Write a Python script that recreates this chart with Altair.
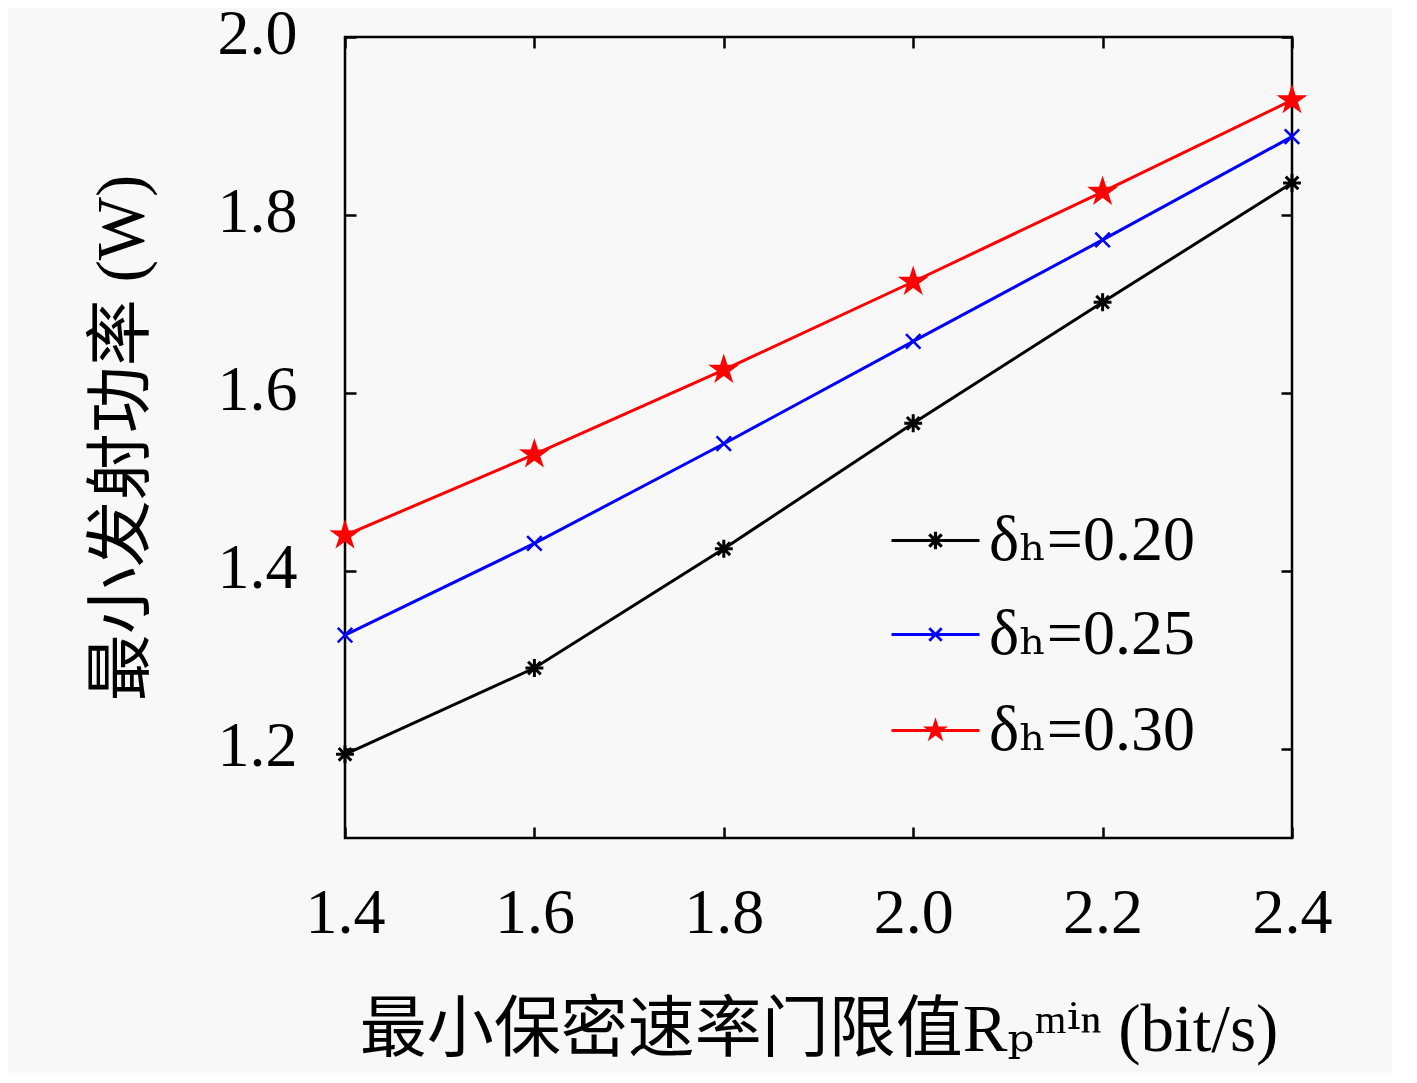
import math
import altair as alt
import pandas as pd

# ---------------- data ----------------
rate_min = [1.4, 1.6, 1.8, 2.0, 2.2, 2.4]
power_020 = [1.194, 1.291, 1.425, 1.566, 1.702, 1.836]
power_025 = [1.328, 1.431, 1.543, 1.658, 1.772, 1.888]
power_030 = [1.440, 1.531, 1.626, 1.725, 1.826, 1.929]
series_labels = ["δₕ=0.20", "δₕ=0.25", "δₕ=0.30"]
x_ticks = [1.4, 1.6, 1.8, 2.0, 2.2, 2.4]
y_ticks = [1.2, 1.4, 1.6, 1.8, 2.0]

rows = []
for lab, vals in zip(series_labels, [power_020, power_025, power_030]):
    for xv, yv in zip(rate_min, vals):
        rows.append({"rate": xv, "power": yv, "series": lab})
df = pd.DataFrame(rows)

# ---------------- styles ----------------
colors = ["#000000", "#0000ff", "#ff0000"]
W, H = 947, 801
SERIF = "Liberation Serif, DejaVu Serif, Noto Sans CJK SC"
legend_tops = [458, 552, 648]


def fmt(v):
    return f"{v:.4f}"


def asterisk(s):
    d = s * 0.7071
    return (f"M{fmt(-s)},0L{fmt(s)},0M0,{fmt(-s)}L0,{fmt(s)}"
            f"M{fmt(-d)},{fmt(-d)}L{fmt(d)},{fmt(d)}M{fmt(-d)},{fmt(d)}L{fmt(d)},{fmt(-d)}")


def xmark(s):
    return f"M{fmt(-s)},{fmt(-s)}L{fmt(s)},{fmt(s)}M{fmt(-s)},{fmt(s)}L{fmt(s)},{fmt(-s)}"


def star(s, ratio=0.38):
    pts = []
    for k in range(10):
        ang = math.radians(-90 + 36 * k)
        r = s if k % 2 == 0 else s * ratio
        pts.append(f"{fmt(r * math.cos(ang))},{fmt(r * math.sin(ang))}")
    return "M" + "L".join(pts) + "Z"


# filled (stroke-free) versions for legend symbols
def seg_rect(x1, y1, x2, y2, t):
    dx, dy = x2 - x1, y2 - y1
    L = math.hypot(dx, dy)
    nx, ny = -dy / L * t, dx / L * t
    pts = [(x1 - nx, y1 - ny), (x2 - nx, y2 - ny), (x2 + nx, y2 + ny), (x1 + nx, y1 + ny)]
    return "M" + "L".join(f"{fmt(a)},{fmt(b)}" for a, b in pts) + "Z"


def spokes(s, angles, t):
    out = ""
    for a in angles:
        c, sn = math.cos(math.radians(a)), math.sin(math.radians(a))
        out += seg_rect(-s * c, -s * sn, s * c, s * sn, t)
    return out


LT = 1.6 / 44  # legend line half thickness in unit space
legend_line = seg_rect(-1, 0, 1, 0, LT)
legend_paths = [legend_line + spokes(0.2, [0, 45, 90, 135], LT),
                legend_line + spokes(0.2, [45, 135], 1.4 / 44),
                legend_line + star(0.3)]

marker_paths = [asterisk(1), xmark(1), star(1)]
marker_sizes = [320, 210, 680]
marker_widths = [3, 2.5, 2]

xscale = alt.Scale(domain=[1.4, 2.4], nice=False, zero=False)
yscale = alt.Scale(domain=[1.1, 2.0], nice=False, zero=False)
col_scale = alt.Scale(domain=series_labels, range=colors)

base = alt.Chart(df)

tick_axis_common = dict(labels=False, ticks=True, tickSize=11, tickWidth=2.5,
                        tickColor="black", domain=False, grid=False, title=None)

# line layer with the labelled axes
lines = base.mark_line(strokeWidth=3).encode(
    x=alt.X("rate:Q", scale=xscale, axis=alt.Axis(
        orient="bottom", values=x_ticks, format=".1f", ticks=False, domain=False,
        grid=False, labelFont=SERIF, labelFontSize=64, labelColor="black",
        labelPadding=43, labelFlush=False, labelOverlap=False,
        title="最小保密速率门限值Rₚᵐⁱⁿ (bit/s)", titleFont=SERIF,
        titleFontSize=67, titleFontWeight="normal", titleColor="black",
        titleX=473.5, titleY=212, titleAlign="center",
        titleBaseline="alphabetic", titleAngle=0)),
    y=alt.Y("power:Q", scale=yscale, axis=alt.Axis(
        orient="left", values=y_ticks, format=".1f", ticks=False, domain=False,
        grid=False, labelFont=SERIF, labelFontSize=64, labelColor="black",
        labelPadding=48, labelFlush=False, labelOverlap=False, labelOffset=-3,
        title="最小发射功率 (W)", titleFont=SERIF, titleFontSize=67,
        titleFontWeight="normal", titleColor="black", titleAngle=270,
        titleX=-203, titleY=400.5, titleAlign="center",
        titleBaseline="alphabetic")),
    color=alt.Color("series:N", scale=col_scale, legend=None),
    detail="series:N",
)

# markers, one layer per series; two of them carry the inward tick axes
tick_axes = [
    (alt.Axis(orient="top", offset=-H, values=x_ticks, **tick_axis_common),
     alt.Axis(orient="left", offset=-W, values=y_ticks, **tick_axis_common)),
    (alt.Axis(orient="bottom", offset=-H, values=x_ticks, **tick_axis_common),
     alt.Axis(orient="right", offset=-W, values=y_ticks, **tick_axis_common)),
    (None, None),
]
marker_layers = []
for lab, col, path, size, sw, (ax_x, ax_y) in zip(
        series_labels, colors, marker_paths, marker_sizes, marker_widths, tick_axes):
    marker_layers.append(
        base.transform_filter(alt.datum.series == lab).mark_point(
            shape=path, size=size, filled=True, fill=col, stroke=col,
            strokeWidth=sw, opacity=1).encode(
            x=alt.X("rate:Q", scale=xscale, axis=ax_x),
            y=alt.Y("power:Q", scale=yscale, axis=ax_y),
        )
    )

# legend layers (no marks drawn): one single-entry legend per series,
# symbol = line + marker in the series colour
legend_layers = []
for lab, col, lpath, top in zip(series_labels, colors, legend_paths, legend_tops):
    legend_layers.append(
        base.transform_filter("false").mark_point(
            filled=True, fill=col, stroke=col, strokeWidth=2.5, opacity=1).encode(
            x=alt.X("rate:Q", scale=xscale, axis=None),
            y=alt.Y("power:Q", scale=yscale, axis=None),
            shape=alt.Shape("series:N",
                            scale=alt.Scale(domain=[lab], range=[lpath]),
                            legend=alt.Legend(
                                orient="none", legendX=545, legendY=top, title=None,
                                symbolSize=7744, symbolStrokeWidth=2.5, symbolOpacity=1,
                                symbolFillColor=col, symbolStrokeColor=col,
                                labelFont=SERIF, labelFontSize=64, labelColor="black",
                                labelOffset=8, labelLimit=600, padding=0)),
        )
    )

chart = alt.layer(lines, *marker_layers, *legend_layers).resolve_scale(
    shape="independent"
).properties(
    width=W, height=H,
    autosize=alt.AutoSizeParams(type="none"),
    padding={"left": 337, "top": 29, "right": 100, "bottom": 235},
    background="#f8f8f8",
).configure_view(stroke="black", strokeWidth=2.5)

chart.save("out.html", embed_options={"renderer": "svg", "actions": False})
